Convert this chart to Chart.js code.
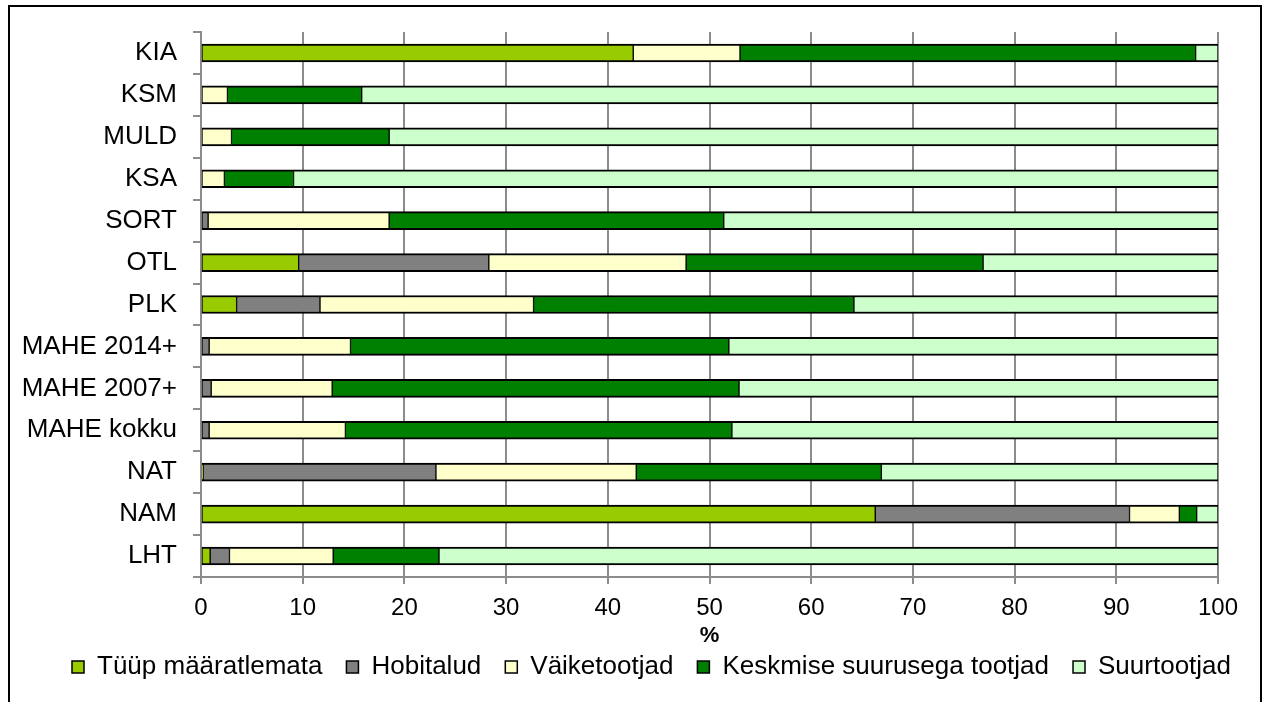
<!DOCTYPE html>
<html>
<head>
<meta charset="utf-8">
<title>Tootjate tüübid</title>
<script src="https://cdn.jsdelivr.net/npm/chart.js@4.4.1/dist/chart.umd.min.js"></script>
<style>
    body { margin: 0; background: #fff; }
    #frame { position: absolute; left: 8px; top: 5px; width: 1254px; height: 720px; border: 2px solid #000; box-sizing: border-box; }
    #myChart { position: absolute; left: 0; top: 0; }
</style>
</head>
<body>
<div id="frame"><canvas id="myChart" width="1250" height="702"></canvas></div>
<script>
// ---------------------------------- data ----------------------------------------------------
const categories = ["KIA", "KSM", "MULD", "KSA", "SORT", "OTL", "PLK", "MAHE 2014+", "MAHE 2007+", "MAHE kokku", "NAT", "NAM", "LHT"];
const seriesNames = ["Tüüp määratlemata", "Hobitalud", "Väiketootjad", "Keskmise suurusega tootjad", "Suurtootjad"];

const tyypMaaratlemata = [42.5, 0, 0, 0, 0, 9.6, 3.5, 0, 0, 0, 0.2, 66.3, 0.9];
const hobitalud = [0, 0, 0, 0, 0.7, 18.7, 8.2, 0.8, 1.0, 0.8, 22.9, 25.0, 1.9];
const vaiketootjad = [10.5, 2.6, 3.0, 2.3, 17.8, 19.4, 21.0, 13.9, 11.9, 13.4, 19.7, 4.9, 10.2];
const keskmised = [44.8, 13.2, 15.5, 6.8, 32.9, 29.2, 31.5, 37.2, 40.0, 38.0, 24.1, 1.7, 10.4];
const suurtootjad = [2.2, 84.2, 81.5, 90.9, 48.6, 23.1, 35.8, 48.1, 47.1, 47.8, 33.1, 2.1, 76.6];

const xTicks = [0, 10, 20, 30, 40, 50, 60, 70, 80, 90, 100];
const xTitle = "%";

const colors = ["#99CC00", "#808080", "#FFFFCC", "#008000", "#CCFFCC"];
const FONT = "'Liberation Sans', Arial, sans-serif";
const gridGray = "#8c8c8c";

// ---------------------------------- legend position ------------------------------------------
const legendShift = {
    id: "legendShift",
    afterLayout: (chart) => {
        const lg = chart.legend;
        const h = lg.bottom - lg.top;
        const w = lg.right - lg.left;
        lg.top = 623;
        lg.bottom = lg.top + h;
        lg.left = 38;
        lg.right = lg.left + w;
    }
};

// ---------------------------------- build chart ----------------------------------------------
const makeDataset = (label, values, i) => ({
    label: label,
    data: values,
    backgroundColor: colors[i],
    borderColor: "#000",
    borderWidth: { left: 1, right: 1, top: 2, bottom: 2 },
    borderSkipped: false,
    barThickness: 18
});

const drawChart = () => {
    const ctx = document.getElementById("myChart");
    const allSeries = [tyypMaaratlemata, hobitalud, vaiketootjad, keskmised, suurtootjad];

    new Chart(ctx, {
        type: "bar",
        data: {
            labels: categories,
            datasets: allSeries.map((values, i) => makeDataset(seriesNames[i], values, i))
        },
        options: {
            indexAxis: "y",
            responsive: false,
            animation: false,
            layout: { padding: { top: 25, right: 42, bottom: 0, left: 0 } },
            scales: {
                x: {
                    stacked: true,
                    min: xTicks[0],
                    max: xTicks[xTicks.length - 1],
                    afterBuildTicks: (scale) => { scale.ticks = xTicks.map(v => ({ value: v })); },
                    afterFit: (scale) => { scale.height = 72; },
                    grid: { color: gridGray, lineWidth: 2, tickLength: 7 },
                    border: { color: gridGray, width: 2 },
                    ticks: { color: "#000", font: { family: FONT, size: 24 }, padding: 10, maxRotation: 0 },
                    title: { display: true, text: xTitle, color: "#000", font: { family: FONT, size: 22, weight: "bold" }, padding: { top: 0, bottom: 0 } }
                },
                y: {
                    stacked: true,
                    afterFit: (scale) => {
                        scale.width = 191;
                        scale.paddingTop = 0;
                        scale.paddingBottom = 0;
                    },
                    grid: { drawOnChartArea: false, color: gridGray, lineWidth: 2, tickLength: 8, offset: true },
                    border: { color: gridGray, width: 2 },
                    ticks: { color: "#000", font: { family: FONT, size: 26 }, padding: 16, autoSkip: false }
                }
            },
            plugins: {
                legend: {
                    position: "bottom",
                    align: "start",
                    labels: { color: "#000", font: { family: FONT, size: 26 }, boxWidth: 12, boxHeight: 12, padding: 24 }
                },
                tooltip: { enabled: false }
            }
        },
        plugins: [legendShift]
    });
};

window.addEventListener("load", () => {
    drawChart();
});
</script>
</body>
</html>
